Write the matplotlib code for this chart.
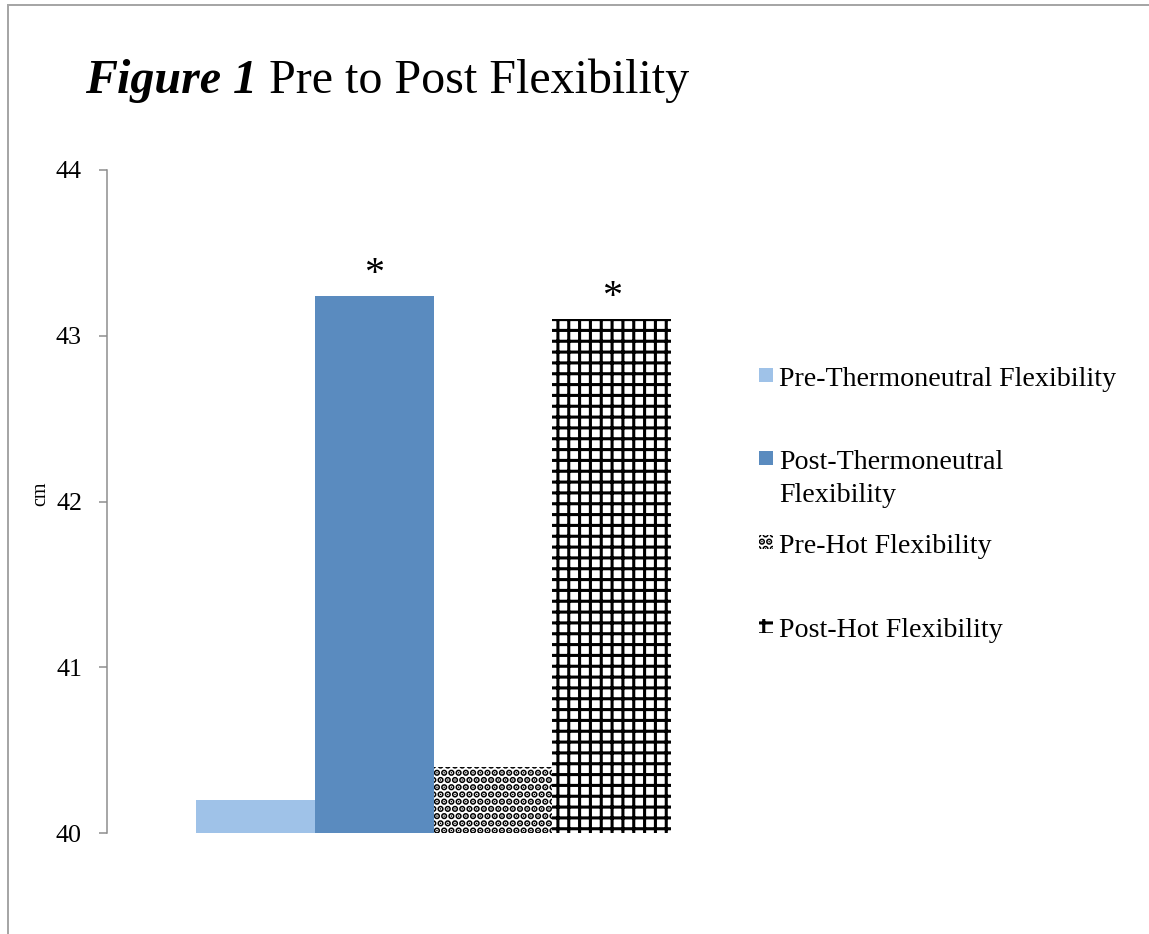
import numpy as np
import matplotlib
matplotlib.use('Agg')
import matplotlib.pyplot as plt
from matplotlib.patches import Rectangle
from matplotlib.lines import Line2D

# 数据
labels = ['Pre-Thermoneutral Flexibility', 'Post-Thermoneutral\nFlexibility',
          'Pre-Hot Flexibility', 'Post-Hot Flexibility']
values = [40.2, 43.24, 40.4, 43.1]
significant = [False, True, False, True]
y_ticks = [40, 41, 42, 43, 44]

colors = ['#9FC2E8', '#5A8BBF', 'white', 'white']
hatches = ['', '', '...', '++']
hatch_lw = [1.0, 1.0, 2.6, 1.7]

DPI = 130
W, H = 1149, 934


def px(v):
    """像素 -> 磅"""
    return v * 72 / DPI


plt.rcParams['font.family'] = ['Liberation Serif', 'DejaVu Serif']
plt.rcParams['hatch.color'] = 'black'

fig = plt.figure(figsize=(W / DPI, H / DPI), dpi=DPI)
ax = fig.add_axes([107 / W, 1 - 833 / H, (760 - 107) / W, (833 - 170) / H])

bar_w = 0.1819
x = (np.arange(len(values)) - 1.5) * bar_w
bars = []
for i in range(len(values)):
    plt.rcParams['hatch.linewidth'] = hatch_lw[i]
    b = ax.bar(x[i], values[i], width=bar_w, color=colors[i], hatch=hatches[i],
               edgecolor='black', linewidth=0)
    if hasattr(b[0], 'set_hatch_linewidth'):
        b[0].set_hatch_linewidth(hatch_lw[i])
    bars.append(b[0])

ax.set_xlim(-0.5, 0.5)
ax.set_ylim(40, 44)
ax.set_yticks(y_ticks)
ax.set_xticks([])
for s in ['top', 'right', 'bottom']:
    ax.spines[s].set_visible(False)
ax.spines['left'].set_color('#8c8c8c')
ax.spines['left'].set_linewidth(px(1.5))
ax.tick_params(axis='y', direction='out', length=px(8), width=px(1.5),
               color='#8c8c8c', pad=px(17), labelsize=px(26))
ax.set_ylabel('cm', fontsize=px(20))
ax.yaxis.set_label_coords(-0.087, 0.511)

# 显著性星号
for i in range(len(values)):
    if significant[i]:
        ax.annotate('*', (x[i], values[i]), xytext=(0, px(12)),
                    textcoords='offset points', ha='center', va='baseline',
                    fontsize=px(40))

# 标题
t1 = fig.text(85 / W, 1 - 93 / H, 'Figure 1', fontsize=px(48), fontstyle='italic',
              fontweight='bold', va='baseline')
renderer = fig.canvas.get_renderer()
bb = t1.get_window_extent(renderer)
fig.text((bb.x1 + 12) / W, 1 - 93 / H, 'Pre to Post Flexibility', fontsize=px(48),
         va='baseline')

# 图例（手动放置）
handle_tops = [368, 451, 535, 619]
text_base = [386, 502, 553, 637]   # 多行标签按最后一行基线对齐
for i in range(len(labels)):
    r = Rectangle((759 / W, 1 - (handle_tops[i] + 14) / H), 14 / W, 14 / H,
                  transform=fig.transFigure, facecolor=colors[i], hatch=hatches[i],
                  edgecolor='black', linewidth=0)
    if hasattr(r, 'set_hatch_linewidth'):
        r.set_hatch_linewidth(hatch_lw[i])
    fig.add_artist(r)
    fig.text(779 / W, 1 - text_base[i] / H, labels[i], fontsize=px(28),
             va='baseline', linespacing=1.4)

# 外框
border = '#a6a6a6'
fig.add_artist(Line2D([8 / W, 8 / W], [0, 1 - 5 / H], transform=fig.transFigure,
                      color=border, lw=px(2)))
fig.add_artist(Line2D([8 / W, 1], [1 - 5 / H, 1 - 5 / H], transform=fig.transFigure,
                      color=border, lw=px(2)))

fig.savefig('out.png', dpi=DPI)
